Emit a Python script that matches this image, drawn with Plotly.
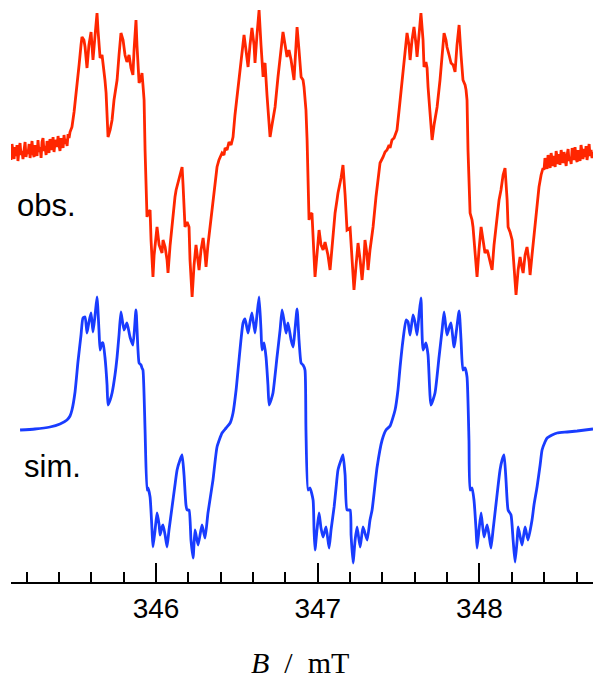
import plotly.graph_objects as go

# ---- observed spectrum: field (mT) and intensity (arb. units, baseline = 0)
obs_field = [
    345.097, 345.103, 345.109, 345.115, 345.122, 345.128, 345.134, 345.140, 345.146, 345.153,
    345.159, 345.165, 345.171, 345.177, 345.184, 345.190, 345.196, 345.202, 345.208, 345.215,
    345.221, 345.227, 345.233, 345.239, 345.246, 345.252, 345.258, 345.264, 345.270, 345.276,
    345.283, 345.289, 345.295, 345.301, 345.307, 345.313, 345.320, 345.326, 345.332, 345.338,
    345.344, 345.351, 345.357, 345.363, 345.369, 345.375, 345.382, 345.388, 345.394, 345.400,
    345.406, 345.413, 345.419, 345.425, 345.431, 345.437, 345.444, 345.450, 345.456, 345.462,
    345.468, 345.480, 345.493, 345.511, 345.524, 345.536, 345.542, 345.554, 345.561, 345.573,
    345.585, 345.598, 345.604, 345.610, 345.623, 345.635, 345.641, 345.654, 345.666, 345.672,
    345.684, 345.691, 345.697, 345.703, 345.716, 345.728, 345.740, 345.759, 345.771, 345.783,
    345.796, 345.802, 345.808, 345.820, 345.833, 345.845, 345.857, 345.864, 345.876, 345.882,
    345.895, 345.907, 345.913, 345.919, 345.926, 345.932, 345.944, 345.950, 345.963, 345.969,
    345.981, 345.988, 346.006, 346.019, 346.037, 346.043, 346.056, 346.068, 346.074, 346.087,
    346.105, 346.117, 346.124, 346.142, 346.161, 346.167, 346.179, 346.192, 346.204, 346.210,
    346.223, 346.235, 346.247, 346.260, 346.266, 346.278, 346.291, 346.303, 346.309, 346.321,
    346.334, 346.352, 346.365, 346.377, 346.389, 346.408, 346.420, 346.427, 346.439, 346.451,
    346.464, 346.476, 346.488, 346.507, 346.525, 346.544, 346.556, 346.569, 346.581, 346.593,
    346.606, 346.612, 346.624, 346.637, 346.649, 346.662, 346.668, 346.674, 346.686, 346.705,
    346.717, 346.736, 346.754, 346.767, 346.785, 346.798, 346.810, 346.822, 346.835, 346.853,
    346.866, 346.872, 346.884, 346.897, 346.909, 346.915, 346.927, 346.934, 346.946, 346.952,
    346.964, 346.971, 346.983, 346.995, 347.008, 347.020, 347.033, 347.045, 347.051, 347.063,
    347.076, 347.088, 347.107, 347.119, 347.125, 347.144, 347.156, 347.169, 347.181, 347.200,
    347.212, 347.224, 347.237, 347.249, 347.262, 347.274, 347.286, 347.292, 347.305, 347.311,
    347.323, 347.342, 347.360, 347.373, 347.385, 347.404, 347.416, 347.428, 347.441, 347.447,
    347.459, 347.472, 347.490, 347.503, 347.521, 347.540, 347.552, 347.564, 347.571, 347.583,
    347.595, 347.608, 347.614, 347.626, 347.638, 347.651, 347.657, 347.669, 347.676, 347.682,
    347.694, 347.707, 347.719, 347.738, 347.756, 347.769, 347.781, 347.793, 347.799, 347.812,
    347.824, 347.837, 347.849, 347.861, 347.874, 347.886, 347.898, 347.911, 347.917, 347.923,
    347.929, 347.942, 347.954, 347.960, 347.973, 347.985, 347.997, 348.010, 348.022, 348.034,
    348.047, 348.053, 348.066, 348.078, 348.090, 348.109, 348.121, 348.133, 348.146, 348.158,
    348.171, 348.177, 348.189, 348.202, 348.214, 348.226, 348.239, 348.251, 348.263, 348.270,
    348.282, 348.294, 348.307, 348.313, 348.325, 348.344, 348.356, 348.368, 348.381, 348.393,
    348.399, 348.405, 348.412, 348.418, 348.424, 348.430, 348.437, 348.443, 348.449, 348.455,
    348.461, 348.468, 348.474, 348.480, 348.486, 348.492, 348.498, 348.505, 348.511, 348.517,
    348.523, 348.529, 348.536, 348.542, 348.548, 348.554, 348.560, 348.567, 348.573, 348.579,
    348.585, 348.591, 348.597, 348.604, 348.610, 348.616, 348.622, 348.628, 348.634, 348.640,
    348.647, 348.653, 348.659, 348.665, 348.671, 348.678, 348.684, 348.690, 348.696, 348.702,
]
obs_signal = [
    2, -10, 6, -4, -9, 3, -6, 5, -11, 1,
    7, -5, -1, -9, 4, 8, -7, 0, -4, 6,
    -8, 2, 9, -3, -7, 5, 1, -6, 10, -2,
    3, -8, 8, 12, -1, 4, -5, 9, 2, -3,
    11, 6, 0, 13, -2, 7, 10, 3, 14, 5,
    -1, 12, 8, 2, 15, 6, 11, 4, 16, 12,
    18, 23, 38, 63, 85, 105, 113, 110, 103, 82,
    105, 118, 105, 90, 115, 137, 120, 92, 95, 88,
    70, 57, 35, 13, 20, 30, 50, 70, 95, 117,
    110, 103, 95, 88, 95, 82, 75, 100, 130, 105,
    67, 72, 77, 65, 50, 0, -67, -63, -60, -90,
    -127, -105, -77, -95, -103, -90, -97, -110, -123, -95,
    -63, -47, -40, -28, -17, -35, -77, -72, -77, -110,
    -147, -115, -95, -112, -120, -100, -88, -105, -117, -95,
    -77, -53, -35, -17, -10, -3, -5, 2, 0, 8,
    5, 13, 35, 63, 90, 115, 100, 83, 105, 122,
    105, 87, 115, 140, 105, 73, 85, 87, 55, 13,
    25, 43, 73, 90, 118, 105, 93, 100, 90, 70,
    100, 123, 100, 73, 70, 63, 40, 10, -70, -65,
    -63, -90, -127, -105, -80, -95, -100, -92, -97, -105,
    -120, -95, -63, -50, -43, -28, -15, -45, -80, -78,
    -105, -140, -115, -93, -110, -130, -108, -90, -105, -120,
    -100, -77, -47, -30, -13, -7, -2, 0, 5, 2,
    10, 12, 20, 40, 67, 95, 117, 105, 90, 110,
    123, 105, 93, 115, 137, 110, 83, 88, 82, 63,
    35, 10, 25, 43, 70, 95, 117, 110, 103, 95,
    87, 85, 78, 105, 125, 95, 70, 65, 60, 50,
    0, -63, -70, -77, -100, -127, -100, -77, -90, -103,
    -100, -103, -112, -120, -95, -67, -50, -40, -25, -18,
    -50, -77, -82, -90, -115, -145, -120, -107, -118, -123,
    -105, -97, -112, -125, -105, -77, -55, -37, -25, -18,
    -20, -8, -15, -19, -5, -12, -18, -3, -10, -16,
    -6, -17, -1, -11, -14, -4, -15, 0, -9, -13,
    -2, -12, -16, -5, 1, -11, -7, -14, 2, -6,
    -10, 3, -8, -12, 0, -4, -11, 5, -2, -9,
    1, -7, 4, -10, -3, 6, -6, 0, -8, -2,
]

# ---- simulated spectrum
sim_field = [
    345.159, 345.251, 345.344, 345.406, 345.449, 345.468, 345.480, 345.499, 345.517, 345.536,
    345.548, 345.561, 345.573, 345.585, 345.598, 345.610, 345.623, 345.635, 345.647, 345.654,
    345.666, 345.672, 345.684, 345.697, 345.703, 345.716, 345.728, 345.746, 345.759, 345.771,
    345.783, 345.802, 345.820, 345.839, 345.857, 345.876, 345.895, 345.907, 345.913, 345.919,
    345.932, 345.944, 345.950, 345.963, 345.975, 345.981, 345.994, 346.006, 346.019, 346.025,
    346.037, 346.043, 346.056, 346.068, 346.080, 346.099, 346.117, 346.130, 346.148, 346.161,
    346.173, 346.185, 346.192, 346.204, 346.216, 346.229, 346.241, 346.260, 346.284, 346.303,
    346.321, 346.352, 346.377, 346.408, 346.433, 346.458, 346.476, 346.495, 346.507, 346.525,
    346.538, 346.550, 346.569, 346.581, 346.593, 346.612, 346.624, 346.637, 346.649, 346.655,
    346.668, 346.680, 346.692, 346.699, 346.711, 346.723, 346.748, 346.767, 346.779, 346.791,
    346.804, 346.816, 346.835, 346.847, 346.872, 346.884, 346.897, 346.909, 346.921, 346.927,
    346.940, 346.952, 346.971, 346.977, 346.983, 346.995, 347.008, 347.020, 347.033, 347.051,
    347.070, 347.082, 347.101, 347.113, 347.125, 347.144, 347.156, 347.169, 347.181, 347.200,
    347.206, 347.218, 347.231, 347.243, 347.262, 347.280, 347.305, 347.323, 347.336, 347.367,
    347.398, 347.422, 347.447, 347.478, 347.496, 347.509, 347.527, 347.546, 347.558, 347.571,
    347.589, 347.601, 347.614, 347.626, 347.638, 347.651, 347.669, 347.682, 347.700, 347.725,
    347.750, 347.769, 347.781, 347.799, 347.812, 347.824, 347.843, 347.874, 347.886, 347.898,
    347.911, 347.923, 347.935, 347.942, 347.954, 347.966, 347.979, 347.985, 347.997, 348.010,
    348.028, 348.047, 348.059, 348.071, 348.084, 348.103, 348.127, 348.140, 348.152, 348.164,
    348.177, 348.195, 348.208, 348.220, 348.233, 348.239, 348.263, 348.282, 348.300, 348.325,
    348.337, 348.356, 348.375, 348.387, 348.405, 348.418, 348.449, 348.480, 348.542, 348.604,
    348.702,
]
sim_signal = [
    0, 1, 3, 6, 10, 14, 20, 38, 68, 95,
    112, 113, 97, 108, 117, 98, 115, 133, 100, 80,
    87, 87, 73, 45, 25, 30, 37, 55, 73, 95,
    118, 100, 107, 93, 85, 120, 67, 65, 62, 60,
    0, -60, -58, -67, -100, -117, -100, -83, -95, -105,
    -97, -95, -105, -117, -100, -77, -55, -40, -30, -25,
    -45, -75, -80, -80, -110, -128, -100, -115, -95, -108,
    -83, -50, -17, -3, 2, 7, 17, 40, 60, 90,
    107, 111, 97, 108, 117, 97, 115, 133, 100, 80,
    87, 73, 45, 25, 30, 37, 73, 100, 120, 110,
    97, 107, 90, 83, 121, 90, 67, 65, 60, 0,
    -60, -58, -70, -100, -120, -100, -83, -98, -107, -97,
    -118, -100, -77, -58, -40, -30, -25, -45, -80, -80,
    -105, -133, -110, -97, -117, -97, -110, -90, -80, -37,
    -10, 0, 4, 20, 40, 63, 90, 110, 108, 95,
    115, 108, 95, 115, 132, 80, 87, 75, 25, 37,
    73, 100, 118, 95, 102, 107, 83, 119, 90, 60,
    62, 53, -10, -60, -58, -70, -100, -118, -100, -83,
    -107, -95, -105, -118, -100, -73, -40, -30, -25, -50,
    -80, -85, -110, -132, -110, -97, -115, -97, -110, -90,
    -75, -57, -35, -20, -12, -8, -5, -3, -2, -1,
    1,
]

# tick labels on the field axis
tick_values = [346, 347, 348]
tick_labels = ["346", "347", "348"]

# vertical placement of the two traces (stack offsets)
OBS_OFFSET = 432
SIM_OFFSET = 152

fig = go.Figure()
fig.add_trace(go.Scatter(
    x=obs_field, y=[v + OBS_OFFSET for v in obs_signal], mode="lines",
    line=dict(color="rgb(255,38,0)", width=2.8), hoverinfo="skip", showlegend=False))
fig.add_trace(go.Scatter(
    x=sim_field, y=[v + SIM_OFFSET for v in sim_signal], mode="lines",
    line=dict(color="rgb(25,60,255)", width=2.8, shape="spline", smoothing=0.5),
    hoverinfo="skip", showlegend=False))

SANS = "Liberation Sans, Arial, sans-serif"
fig.update_layout(
    width=593, height=679,
    margin=dict(l=11, r=0, t=0, b=97),
    paper_bgcolor="white", plot_bgcolor="white",
    font=dict(family=SANS, color="black"),
    xaxis=dict(
        range=[345.103, 348.702],
        showgrid=False, zeroline=False,
        showline=True, linecolor="black", linewidth=2,
        ticks="inside", ticklen=19, tickwidth=2, tickcolor="black",
        tickmode="array", tickvals=tick_values, ticktext=tick_labels,
        tickfont=dict(size=28, family=SANS, color="black"),
        minor=dict(ticks="inside", ticklen=10, tickwidth=2, tickcolor="black",
                   tick0=345.2, dtick=0.2, showgrid=False),
        fixedrange=True,
    ),
    yaxis=dict(range=[0, 582], visible=False, fixedrange=True),
    annotations=[
        dict(x=345.128, y=377, xref="x", yref="y", text="obs.", showarrow=False,
             xanchor="left", yanchor="middle",
             font=dict(size=31, family=SANS, color="black")),
        dict(x=345.171, y=116, xref="x", yref="y", text="sim.", showarrow=False,
             xanchor="left", yanchor="middle",
             font=dict(size=31, family=SANS, color="black")),
        dict(x=0.4966, y=-0.1375, xref="paper", yref="paper",
             text="<i>B</i>\u00a0\u00a0/\u00a0\u00a0mT",
             showarrow=False, xanchor="center", yanchor="middle",
             font=dict(size=30, family="Liberation Serif, Times New Roman, serif", color="black")),
    ],
)

fig.write_html("out.html", config={"displayModeBar": False},
               post_script="document.body.style.margin='0';")
